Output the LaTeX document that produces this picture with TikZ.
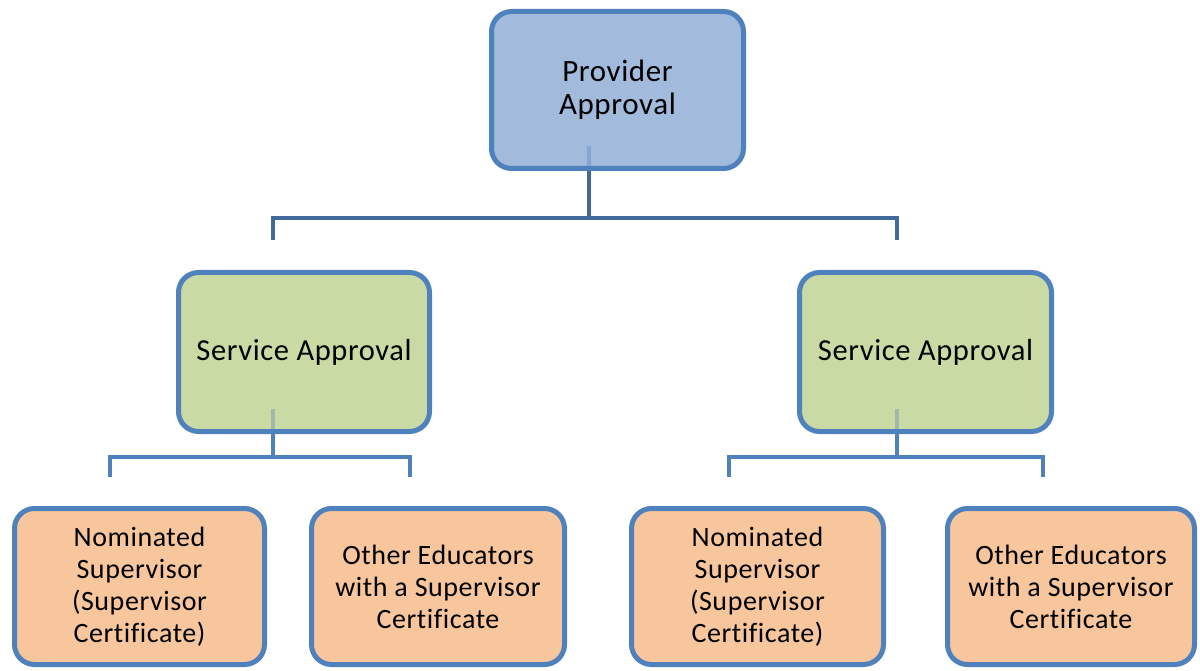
\documentclass[tikz,border=0pt]{standalone}
\usepackage{fontspec}
\setmainfont{Carlito}[Ligatures=NoCommon, LetterSpace=2]
\definecolor{edge}{HTML}{4F81BD}
\definecolor{linkdark}{HTML}{41699B}
\definecolor{topfill}{HTML}{A2BADB}
\definecolor{greenfill}{HTML}{CADAA5}
\definecolor{orangefill}{HTML}{F8C69C}
\tikzset{
  box/.style={draw=edge, line width=5pt, rounded corners=20pt, align=center, inner sep=0pt},
  topbox/.style={box, fill=topfill, minimum width=252pt, minimum height=157pt, font=\fontsize{31}{33}\selectfont},
  svcbox/.style={box, fill=greenfill, minimum width=251pt, minimum height=159pt, font=\fontsize{30.5}{34}\selectfont},
  leafbox/.style={box, fill=orangefill, minimum height=156pt, font=\fontsize{28}{32}\selectfont},
  link/.style={draw=edge, line width=4pt},
  toplink/.style={draw=linkdark, line width=4pt},
  inlink/.style={draw=edge, line width=4pt, opacity=0.35},
}
\begin{document}
\begin{tikzpicture}[x=1pt,y=-1pt]
\useasboundingbox (0,0) rectangle (1200,671);
% nodes
\node[topbox] (top) at (617.5,90) {Provider\\Approval};
\node[svcbox] (svcL) at (304,352) {Service Approval};
\node[svcbox, minimum width=252pt] (svcR) at (925.5,352) {Service Approval};
\node[leafbox, minimum width=250pt] (l1) at (139.5,586.5) {Nominated\\Supervisor\\(Supervisor\\Certificate)};
\node[leafbox, minimum width=253pt] (l2) at (438,586.5) {Other Educators\\with a Supervisor\\Certificate};
\node[leafbox, minimum width=252pt] (r1) at (757.5,586.5) {Nominated\\Supervisor\\(Supervisor\\Certificate)};
\node[leafbox, minimum width=247pt] (r2) at (1071,586.5) {Other Educators\\with a Supervisor\\Certificate};
% junction coordinates
\coordinate (jt) at (589,218);
\coordinate (jtL) at (273,218);
\coordinate (jtR) at (897,218);
\coordinate (eL) at (273,240);
\coordinate (eR) at (897,240);
\coordinate (jl) at (273,457);
\coordinate (jlA) at (110,457);
\coordinate (jlB) at (410,457);
\coordinate (elA) at (110,477);
\coordinate (elB) at (410,477);
\coordinate (jr) at (897,457);
\coordinate (jrA) at (729,457);
\coordinate (jrB) at (1043,457);
\coordinate (erA) at (729,477);
\coordinate (erB) at (1043,477);
% top connector
\draw[inlink] (jt |- 0,146) -- (jt |- top.south);
\draw[toplink] (jt |- top.south) -- (jt);
\draw[toplink] (eL) -- (jtL) -- (jtR) -- (eR);
% left group
\draw[inlink] (jl |- 0,409) -- (jl |- svcL.south);
\draw[link] (jl |- svcL.south) -- (jl);
\draw[link] (elA) -- (jlA) -- (jlB) -- (elB);
% right group
\draw[inlink] (jr |- 0,409) -- (jr |- svcR.south);
\draw[link] (jr |- svcR.south) -- (jr);
\draw[link] (erA) -- (jrA) -- (jrB) -- (erB);
\end{tikzpicture}
\end{document}
